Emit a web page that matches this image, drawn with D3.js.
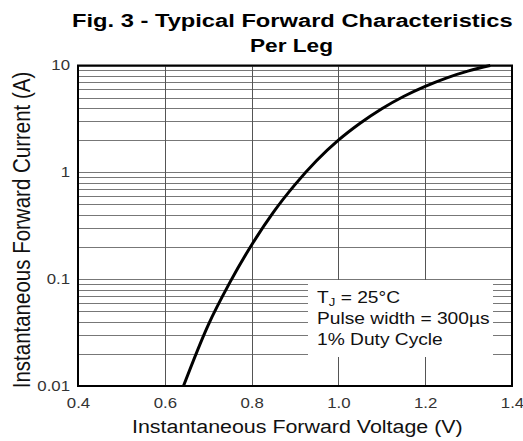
<!DOCTYPE html>
<html>
<head>
<meta charset="utf-8">
<script src="https://cdn.jsdelivr.net/npm/d3@7"></script>
<style>
  body { margin: 0; background: #fff; }
  svg { font-family: "Liberation Sans", Arial, sans-serif; }
  .tick text { fill: #333; font-size: 14px; }
</style>
</head>
<body>
<div id="chart"></div>
<script>
// forward voltage (V) vs instantaneous current (A)
var voltage = [0.643, 0.70, 0.75, 0.80, 0.85, 0.90, 0.95, 1.00, 1.05, 1.10, 1.15, 1.20, 1.25, 1.30, 1.35];
var current = [0.010, 0.0372, 0.0933, 0.209, 0.422, 0.767, 1.29, 2.0, 2.88, 3.94, 5.13, 6.38, 7.67, 8.91, 10];

var xTicks = [0.4, 0.6, 0.8, 1.0, 1.2, 1.4];
var xTickLabels = ['0.4', '0.6', '0.8', '1.0', '1.2', '1.4'];
var yTicks = [0.01, 0.1, 1, 10];
var yTickLabels = ['0.01', '0.1', '1', '10'];

var legendLines = ['= 25°C', 'Pulse width = 300µs', '1% Duty Cycle'];

var _width = 523, _height = 441,
    _left = 78, _right = 512, _top = 65.5, _bottom = 386,
    _stretch = 1.2; // the scanned figure is wider than it is tall

var svg = d3.select('#chart').append('svg')
    .attr('width', _width)
    .attr('height', _height);

var x = d3.scaleLinear().domain([0.4, 1.4]).range([_left, _right]);
var y = d3.scaleLog().domain([0.01, 10]).range([_bottom, _top]);

// widen a text horizontally around its anchor x, by the stretch factor or to a given width
function widen(sel, len) {
  sel.each(function() {
    var t = d3.select(this),
        x0 = +t.attr('x') || 0,
        k = len ? len / this.getComputedTextLength() : _stretch;
    t.attr('transform', 'translate(' + x0 + ',0) scale(' + k + ',1) translate(' + (-x0) + ',0)');
  });
}

// title
svg.append('text')
    .attr('x', 72).attr('y', 27)
    .style('font-weight', 'bold').style('font-size', '18.5px')
    .text('Fig. 3 - Typical Forward Characteristics')
    .call(widen, 441);
svg.append('text')
    .attr('x', 250).attr('y', 52)
    .style('font-weight', 'bold').style('font-size', '18.5px')
    .text('Per Leg')
    .call(widen, 83);

// horizontal grid (log minors)
var grid = svg.append('g').attr('class', 'grid');
grid.selectAll('line.h')
    .data(y.ticks())
    .enter().append('line')
      .attr('class', 'h')
      .attr('x1', _left).attr('x2', _right)
      .attr('y1', function(d) { return Math.round(y(d)) + 0.5; })
      .attr('y2', function(d) { return Math.round(y(d)) + 0.5; })
      .attr('stroke', '#777').attr('stroke-width', 1);

grid.selectAll('line.v')
    .data(xTicks)
    .enter().append('line')
      .attr('class', 'v')
      .attr('y1', _top).attr('y2', _bottom)
      .attr('x1', function(d) { return Math.round(x(d)) + 0.5; })
      .attr('x2', function(d) { return Math.round(x(d)) + 0.5; })
      .attr('stroke', '#555').attr('stroke-width', 1);

// white box behind the test conditions
svg.append('rect')
    .attr('x', 308).attr('y', 280)
    .attr('width', 185).attr('height', 77)
    .attr('fill', '#fff');

var legend = svg.append('g')
    .attr('transform', 'translate(317,0) scale(' + _stretch + ',1)')
    .style('font-size', '16px').attr('fill', '#111');
legend.append('text')
    .attr('x', 0).attr('y', 303)
    .html('T<tspan dy="3" font-size="11px">J</tspan><tspan dy="-3"> ' + legendLines[0] + '</tspan>');
legend.append('text').attr('x', 0).attr('y', 324).text(legendLines[1]);
legend.append('text').attr('x', 0).attr('y', 345).text(legendLines[2]);

// frame
svg.append('rect')
    .attr('x', _left).attr('y', _top)
    .attr('width', _right - _left).attr('height', _bottom - _top)
    .attr('fill', 'none').attr('stroke', '#000').attr('stroke-width', 2);

// curve
var pts = voltage.map(function(v, i) { return [x(v), y(current[i])]; });
svg.append('path')
    .datum(pts)
    .attr('d', d3.line().curve(d3.curveMonotoneX))
    .attr('fill', 'none')
    .attr('stroke', '#000')
    .attr('stroke-width', 3);

// axes
svg.append('g')
    .attr('transform', 'translate(0,' + _bottom + ')')
    .call(d3.axisBottom(x).tickValues(xTicks).tickSize(0).tickPadding(12)
      .tickFormat(function(d, i) { return xTickLabels[i]; }))
    .call(function(g) { g.select('.domain').remove(); });

svg.append('g')
    .attr('transform', 'translate(' + _left + ',0)')
    .call(d3.axisLeft(y).tickValues(yTicks).tickSize(0).tickPadding(8)
      .tickFormat(function(d, i) { return yTickLabels[i]; }))
    .call(function(g) { g.select('.domain').remove(); });

svg.selectAll('.tick text').call(widen);

// axis titles
svg.append('text')
    .attr('x', 132).attr('y', 433)
    .style('font-size', '18px').attr('fill', '#111')
    .text('Instantaneous Forward Voltage (V)')
    .call(widen, 331);
svg.append('text')
    .attr('transform', 'translate(30,230) scale(1.15,1) rotate(-90)')
    .attr('text-anchor', 'middle')
    .style('font-size', '20.5px').attr('fill', '#111')
    .text('Instantaneous Forward Current (A)');
</script>
</body>
</html>
